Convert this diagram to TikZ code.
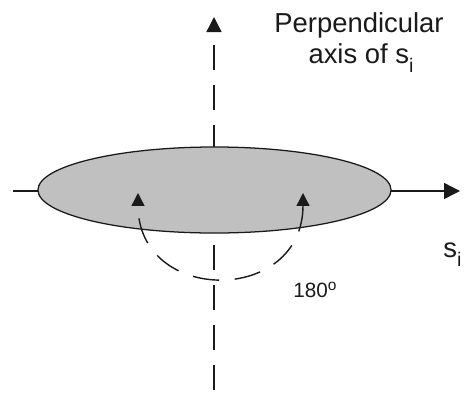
\documentclass[tikz,border=0pt]{standalone}
\usepackage{fontspec}
\setmainfont{Liberation Sans}
\usepackage{tikz}
\usetikzlibrary{arrows.meta,positioning,shapes.geometric}
\definecolor{discgray}{HTML}{C0C0C0}
\definecolor{inkgray}{HTML}{1A1A1A}
\newcommand{\subi}{\raisebox{-7pt}{\fontsize{14}{14}\selectfont i}}
\newcommand{\dego}{\raisebox{4.5pt}{\fontsize{11}{11}\selectfont o}}
\tikzset{
  axisline/.style={
    line width=1pt, color=inkgray,
    -{Triangle[length=#1, width=#1]}
  },
  axisline/.default=0.375cm,
  dashaxis/.style={
    axisline, dash pattern=on 0.625cm off 0.375cm
  },
  disc/.style={
    ellipse, draw=inkgray, fill=discgray, line width=0.9pt,
    minimum width=8.825cm, minimum height=2.15cm, inner sep=0pt
  },
  turnarrow/.style={
    line width=1pt, color=inkgray,
    {Triangle[length=0.32cm, width=0.32cm]}-{Triangle[length=0.32cm, width=0.32cm]},
    dash pattern=on 0.66cm off 0.39cm
  },
  labeltext/.style={
    font=\fontsize{19.5}{22}\selectfont, text=inkgray, inner sep=0pt
  },
  anglelabel/.style={
    font=\fontsize{14.7}{17}\selectfont, text=inkgray, inner sep=0pt
  },
}
\begin{document}
\begin{tikzpicture}[x=0.025cm, y=-0.025cm]
  \useasboundingbox (0,0) rectangle (464,395);

  % Axes
  \coordinate (vbot) at (214,390);
  \coordinate (vtop) at (214,17);
  \coordinate (hleft) at (13,191);
  \coordinate (hright) at (460,191);
  \draw[dashaxis] (vbot) -- (vtop);
  \draw[axisline=0.4cm] (hleft) -- (hright);

  % Rotating body
  \node[disc] (disc) at (214.5,190) {};

  % Half turn
  \coordinate (turnL) at (138,193);
  \coordinate (turnR) at (303,193);
  \draw[turnarrow] (turnR) .. controls (303,305) and (138,305) .. (turnL);

  % Labels
  \node[labeltext, anchor=base] (perp1) at (359,32) {Perpendicular};
  \node[labeltext, anchor=base] (perp2) at (361,63) {axis of s\subi};
  \node[labeltext, anchor=base west] (slabel) at (443,257) {s\subi};
  \node[anglelabel, anchor=base west] (angle) at (293,297) {180\dego};
\end{tikzpicture}
\end{document}
